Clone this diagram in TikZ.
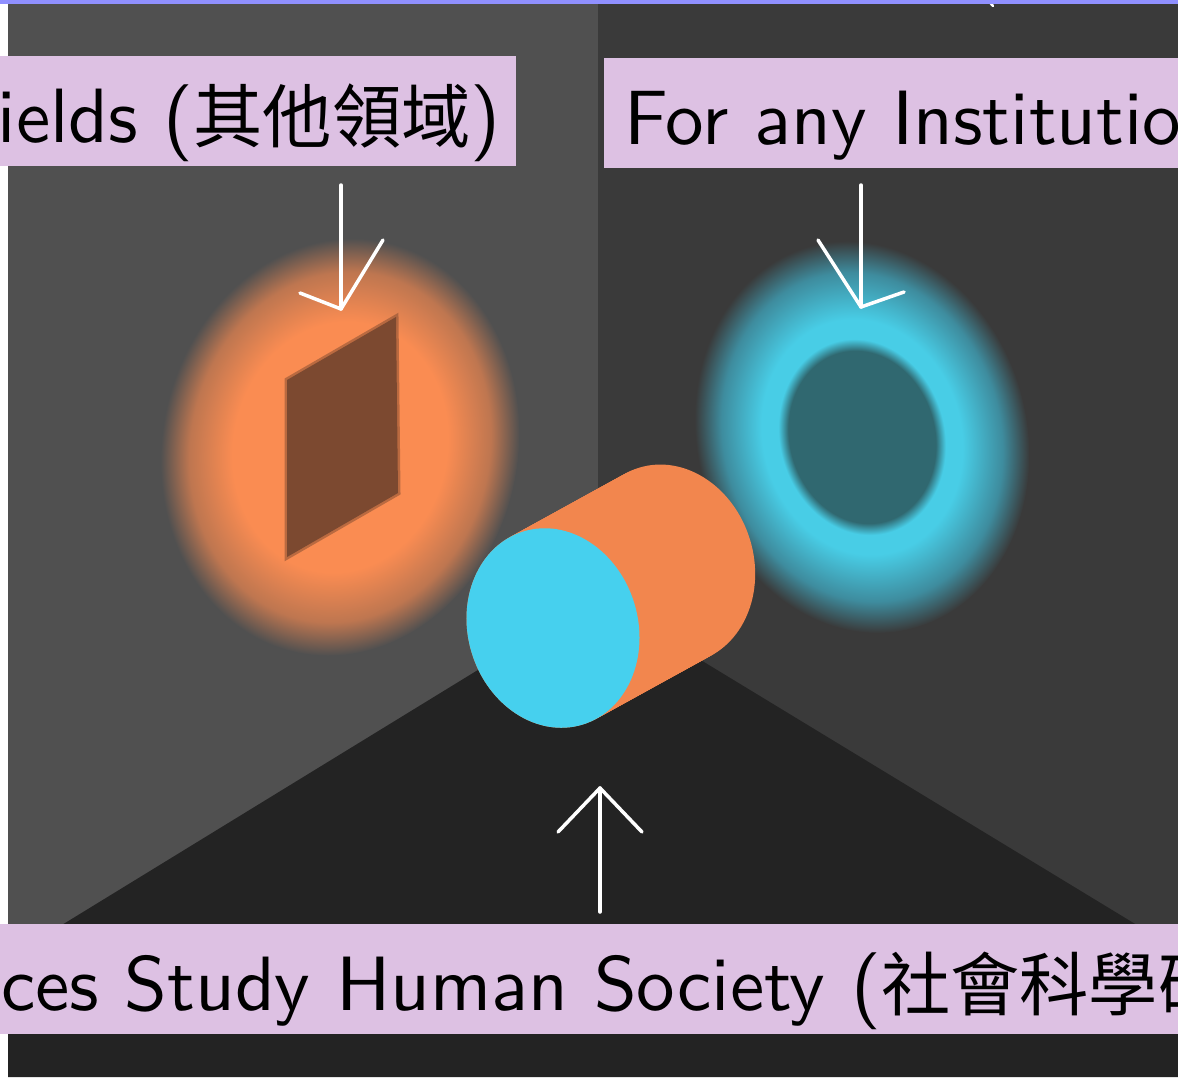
\documentclass[tikz,border=0pt]{standalone}
\usepackage{fontspec}
\newfontfamily\tagfont{lmsans10-regular.otf}
\newfontfamily\cjk[Scale=0.9]{Noto Sans CJK TC}
\definecolor{leftwall}{RGB}{80,80,80}
\definecolor{rightwall}{RGB}{58,58,58}
\definecolor{floorgray}{RGB}{35,35,35}
\definecolor{glowor}{RGB}{250,140,82}
\definecolor{glowormid}{RGB}{190,118,80}
\definecolor{patch}{RGB}{124,73,48}
\definecolor{glowcy}{RGB}{72,205,230}
\definecolor{glowcymid}{RGB}{62,140,158}
\definecolor{hole}{RGB}{48,104,112}
\definecolor{face}{RGB}{70,208,238}
\definecolor{body}{RGB}{242,134,78}
\definecolor{tagfill}{RGB}{221,193,227}
\definecolor{barblue}{RGB}{144,144,255}
\pgfdeclareradialshading{orangeglow}{\pgfpoint{0bp}{0bp}}{color(0bp)=(glowor); color(15bp)=(glowor); color(21bp)=(glowormid); color(25bp)=(leftwall); color(50bp)=(leftwall)}
\pgfdeclareradialshading{cyanglow}{\pgfpoint{0bp}{0bp}}{color(0bp)=(hole); color(11bp)=(hole); color(12.5bp)=(glowcy); color(15bp)=(glowcy); color(21bp)=(glowcymid); color(25bp)=(rightwall); color(50bp)=(rightwall)}
\tikzset{
  tag/.style={fill=tagfill, inner xsep=20pt, inner ysep=0pt, text height=86pt, text depth=24pt,
    font=\tagfont\fontsize{77}{80}\selectfont},
  pointer/.style={draw=white, line width=3.5pt, line cap=round, line join=round}
}
\begin{document}
\begin{tikzpicture}[x=1pt,y=-1pt]
  \useasboundingbox (0,0) rectangle (1178,1077);
  \clip (0,0) rectangle (1178,1077);
  \fill[white] (0,0) rectangle (1178,1077);
  \fill[leftwall] (8,0) rectangle (598,1077);
  \fill[rightwall] (598,0) rectangle (1178,1077);
  \fill[floorgray] (597,597) -- (8,958) -- (8,1077) -- (1178,1077) -- (1178,950) -- cycle;
  \begin{scope}[transform canvas={shift={(340,447)},rotate=-12}]
    \shade[shading=orangeglow] (0,0) ellipse [x radius=178, y radius=210];
  \end{scope}
  \fill[patch] (287,380) -- (396,317) -- (398,493) -- (287,557) -- cycle;
  \draw[patch, line width=5pt, opacity=.5] (287,380) -- (396,317) -- (398,493) -- (287,557) -- cycle;
  \begin{scope}[transform canvas={shift={(862,437)},rotate=15}]
    \shade[shading=cyanglow] (0,0) ellipse [x radius=165, y radius=198];
  \end{scope}
  \foreach \t in {0,0.02,...,1}
    \fill[body, shift={(553+118*\t,628-65*\t)}, rotate=17] (0,0) ellipse [x radius=85, y radius=101];
  \fill[face, shift={(553,628)}, rotate=17] (0,0) ellipse [x radius=85, y radius=101];

  \coordinate (tailA) at (341,185);
  \coordinate (tipA) at (341,309);
  \coordinate (tailB) at (861,185);
  \coordinate (tipB) at (861,307);
  \coordinate (tailC) at (600,912);
  \coordinate (tipC) at (600,788);
  \draw[pointer] (tailA) -- (tipA);
  \draw[pointer] (tipA) ++(-41,-16) -- (tipA) -- ++(42,-69);
  \draw[pointer] (tailB) -- (tipB);
  \draw[pointer] (tipB) ++(-43,-67) -- (tipB) -- ++(43,-15);
  \draw[pointer] (tailC) -- (tipC);
  \draw[pointer] (tipC) ++(-42,44) -- (tipC) -- ++(42,44);
  \draw[pointer, line width=2.5pt] (986,-2) -- (993,6);

  \node[tag, anchor=base east, inner xsep=15pt] (fields) at (516,142) {ields ({\cjk 其他領域})};
  \node[tag, anchor=base west] (inst) at (604,144) {For any Institutio};
  \node[tag, anchor=base west, text width=1300pt, align=left] (social) at (-19,1010) {ces Study Human Society ({\cjk 社會科學研}};
  \fill[barblue] (0,0) rectangle (1178,3.5);
\end{tikzpicture}
\end{document}
